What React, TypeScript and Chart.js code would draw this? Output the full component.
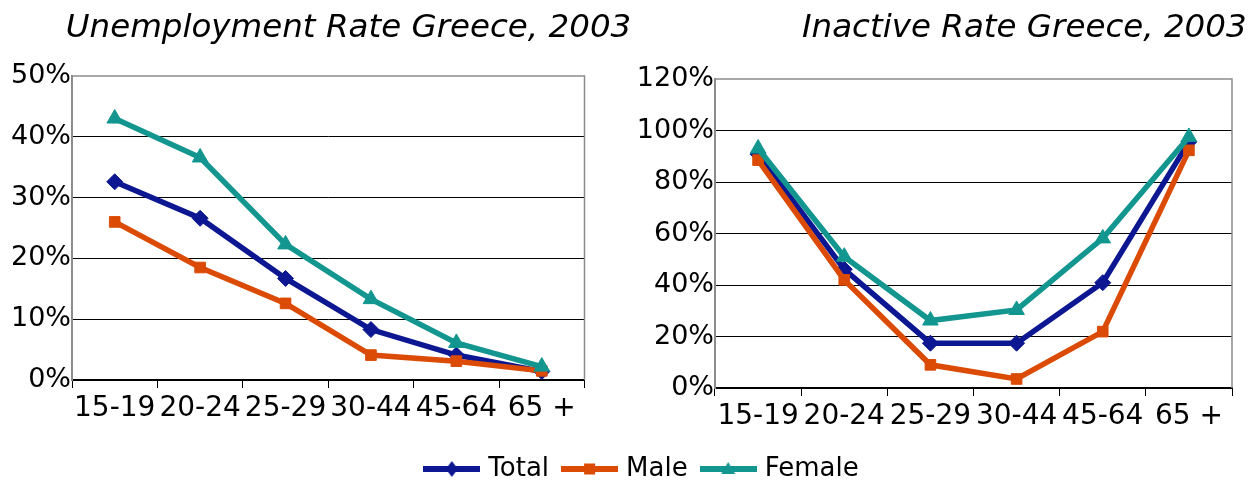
import React, { useEffect, useRef } from "react";
import { Chart, registerables } from "chart.js";

Chart.register(...registerables);

// ---- data ----
const ageGroups = ["15-19", "20-24", "25-29", "30-44", "45-64", "65 +"];
const seriesNames = ["Total", "Male", "Female"];

const unempTotal = [32.6, 26.6, 16.7, 8.3, 4.1, 1.4];
const unempMale = [26.0, 18.5, 12.6, 4.1, 3.1, 1.5];
const unempFemale = [43.0, 36.6, 22.3, 13.3, 6.1, 2.2];

const inactTotal = [90.8, 46.1, 17.4, 17.4, 40.9, 95.6];
const inactMale = [88.5, 42.0, 9.0, 3.5, 21.9, 92.3];
const inactFemale = [93.0, 51.0, 26.2, 30.3, 58.1, 97.5];

const unempTicks = [0, 10, 20, 30, 40, 50];
const inactTicks = [0, 20, 40, 60, 80, 100, 120];

const unempTitle = "Unemployment Rate Greece, 2003";
const inactTitle = "Inactive Rate Greece, 2003";

// ---- styles ----
const COLORS = ["#0c1791", "#db4b06", "#12968f"];
const POINT_STYLES = ["rectRot", "rect", "triangle"];
const POINT_RADII = [8, 7.5, 9];
const FONT = "'DejaVu Sans', sans-serif";

function buildDatasets(total: number[], male: number[], female: number[]) {
  const values = [total, male, female];
  const sets = values.map((data, i) => ({
    label: seriesNames[i],
    data,
    borderColor: COLORS[i],
    backgroundColor: COLORS[i],
    pointBackgroundColor: COLORS[i],
    pointBorderColor: COLORS[i],
    pointStyle: POINT_STYLES[i],
    pointRadius: POINT_RADII[i],
    pointBorderWidth: 1,
    borderWidth: 5.5,
    tension: 0,
    fill: false,
  }));
  // first dataset is drawn on top in Chart.js: put Female first
  return [sets[2], sets[1], sets[0]];
}

const titlePlugin = {
  id: "fixedTitle",
  afterDraw(chart: any, _args: any, opts: any) {
    const ctx = chart.ctx;
    ctx.save();
    ctx.font = `italic ${opts.size}px ${FONT}`;
    ctx.fillStyle = "#000";
    ctx.textAlign = opts.align;
    ctx.textBaseline = "alphabetic";
    ctx.fillText(opts.text, opts.x, opts.y);
    ctx.restore();
  },
};

const framePlugin = {
  id: "frame",
  beforeDatasetsDraw(chart: any) {
    const { ctx, chartArea } = chart;
    ctx.save();
    ctx.strokeStyle = "#8c8c8c";
    ctx.lineWidth = 1.5;
    ctx.beginPath();
    ctx.moveTo(chartArea.left, chartArea.top);
    ctx.lineTo(chartArea.right, chartArea.top);
    ctx.lineTo(chartArea.right, chartArea.bottom);
    ctx.stroke();
    ctx.restore();
  },
};

function makeOptions(cfg: {
  ticks: number[];
  yWidth: number;
  xHeight: number;
  padding: any;
  title: string;
  titleX: number;
  titleAlign: string;
}) {
  const max = cfg.ticks[cfg.ticks.length - 1];
  return {
    responsive: false,
    animation: false,
    layout: { padding: cfg.padding },
    plugins: {
      legend: { display: false },
      tooltip: { enabled: false },
      title: { display: false },
      fixedTitle: { text: cfg.title, x: cfg.titleX, y: 37, size: 32.5, align: cfg.titleAlign },
    },
    scales: {
      x: {
        type: "category",
        offset: true,
        grid: {
          offset: true,
          drawOnChartArea: false,
          drawTicks: true,
          tickLength: 8,
          color: "#000",
          lineWidth: 1,
        },
        border: { color: "#000", width: 2 },
        ticks: {
          font: { family: FONT, size: 28 },
          color: "#000",
          autoSkip: false,
          maxRotation: 0,
          minRotation: 0,
          padding: 4,
        },
        afterFit: (s: any) => {
          s.height = cfg.xHeight;
        },
      },
      y: {
        min: 0,
        max,
        afterBuildTicks: (s: any) => {
          s.ticks = cfg.ticks.map((v) => ({ value: v }));
        },
        grid: {
          drawTicks: false,
          color: (c: any) => (c.tick && c.tick.value === max ? "rgba(0,0,0,0)" : "#000"),
          lineWidth: 1,
        },
        border: { color: "#8c8c8c", width: 2 },
        ticks: {
          font: { family: FONT, size: 27 },
          color: "#000",
          padding: 1,
          callback: (v: any) => v + "%",
        },
        afterFit: (s: any) => {
          s.width = cfg.yWidth;
        },
      },
    },
  };
}

function makeLegendIcon(i: number) {
  const c = document.createElement("canvas");
  c.width = 57;
  c.height = 20;
  const ctx = c.getContext("2d")!;
  ctx.strokeStyle = COLORS[i];
  ctx.fillStyle = COLORS[i];
  ctx.lineWidth = 6;
  ctx.beginPath();
  ctx.moveTo(0, 10);
  ctx.lineTo(57, 10);
  ctx.stroke();
  ctx.beginPath();
  const cx = 28.5;
  const cy = 10;
  if (i === 0) {
    ctx.moveTo(cx, cy - 8);
    ctx.lineTo(cx + 6, cy);
    ctx.lineTo(cx, cy + 8);
    ctx.lineTo(cx - 6, cy);
    ctx.closePath();
  } else if (i === 1) {
    ctx.rect(cx - 5.5, cy - 5.5, 11, 11);
  } else {
    ctx.moveTo(cx, cy - 7);
    ctx.lineTo(cx + 7, cy + 5);
    ctx.lineTo(cx - 7, cy + 5);
    ctx.closePath();
  }
  ctx.fill();
  return c;
}

export default function App() {
  const leftRef = useRef<HTMLCanvasElement>(null);
  const rightRef = useRef<HTMLCanvasElement>(null);
  const legendRef = useRef<HTMLCanvasElement>(null);

  useEffect(() => {
    const left = new Chart(leftRef.current!, {
      type: "line",
      data: { labels: ageGroups, datasets: buildDatasets(unempTotal, unempMale, unempFemale) as any },
      options: makeOptions({
        ticks: unempTicks,
        yWidth: 72,
        xHeight: 60,
        padding: { top: 76, left: 0, right: 665 - 584.5, bottom: 0 },
        title: unempTitle,
        titleX: 348.5,
        titleAlign: "center",
      }) as any,
      plugins: [titlePlugin, framePlugin],
    });

    const right = new Chart(rightRef.current!, {
      type: "line",
      data: { labels: ageGroups, datasets: buildDatasets(inactTotal, inactMale, inactFemale) as any },
      options: makeOptions({
        ticks: inactTicks,
        yWidth: 95,
        xHeight: 52,
        padding: { top: 79, left: 0, right: 20, bottom: 0 },
        title: inactTitle,
        titleX: 182,
        titleAlign: "left",
      }) as any,
      plugins: [titlePlugin, framePlugin],
    });

    const icons = [0, 1, 2].map(makeLegendIcon);
    const legend = new Chart(legendRef.current!, {
      type: "line",
      data: {
        labels: [],
        datasets: seriesNames.map((name, i) => ({
          label: name,
          data: [],
          borderColor: COLORS[i],
          backgroundColor: COLORS[i],
        })),
      },
      options: {
        responsive: false,
        animation: false,
        layout: { padding: { left: 35, right: 0, top: 0, bottom: 0 } },
        scales: { x: { display: false }, y: { display: false } },
        plugins: {
          tooltip: { enabled: false },
          legend: {
            display: true,
            position: "top",
            align: "center",
            maxHeight: 70,
            labels: {
              usePointStyle: true,
              pointStyleWidth: 47,
              padding: 17,
              color: "#000",
              font: { family: FONT, size: 26 },
              generateLabels: (chart: any) =>
                chart.data.datasets.map((ds: any, i: number) => ({
                  text: ds.label,
                  pointStyle: icons[i],
                  fillStyle: COLORS[i],
                  strokeStyle: COLORS[i],
                  lineWidth: 0,
                  hidden: false,
                  datasetIndex: i,
                })),
            },
          },
        },
      } as any,
    });

    return () => {
      left.destroy();
      right.destroy();
      legend.destroy();
    };
  }, []);

  return (
    <div
      style={{
        position: "fixed",
        left: 0,
        top: 0,
        width: 1252,
        height: 485,
        overflow: "hidden",
        background: "#fff",
      }}
    >
      <canvas
        ref={leftRef}
        width={665}
        height={440}
        style={{ position: "absolute", left: 0, top: 0, width: 665, height: 440 }}
      />
      <canvas
        ref={rightRef}
        width={632}
        height={440}
        style={{ position: "absolute", left: 620, top: 0, width: 632, height: 440 }}
      />
      <canvas
        ref={legendRef}
        width={1252}
        height={85}
        style={{ position: "absolute", left: 0, top: 439, width: 1252, height: 85 }}
      />
    </div>
  );
}
